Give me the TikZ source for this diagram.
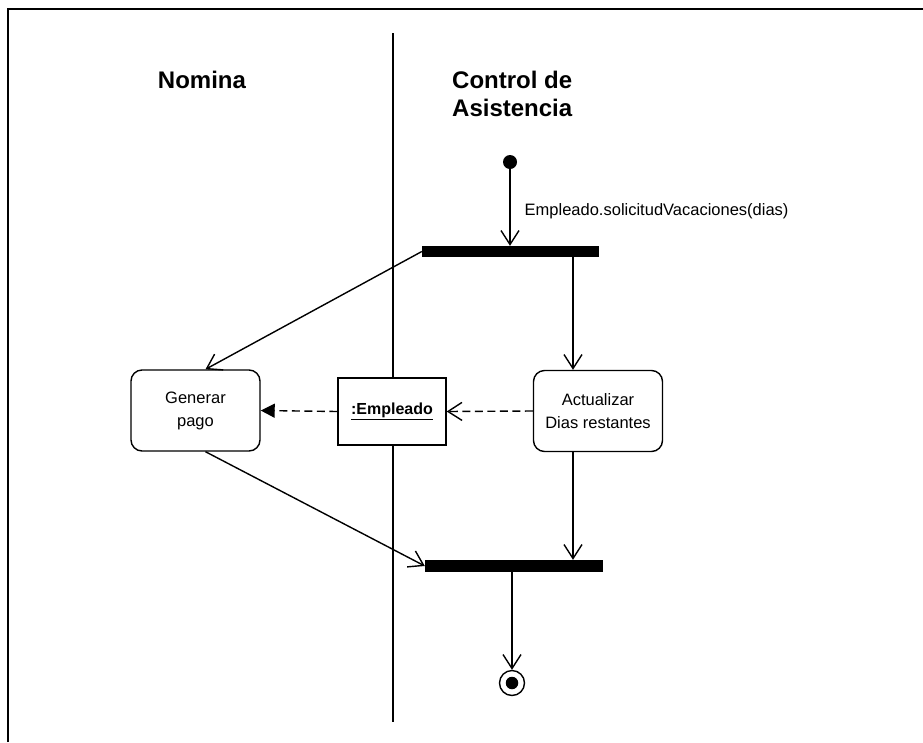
\documentclass[tikz,border=0pt]{standalone}
\usepackage{fontspec}
\setmainfont{Liberation Sans}
\usetikzlibrary{arrows.meta,calc}
\begin{document}
\begin{tikzpicture}[x=1pt,y=-1pt,
  lanehead/.style={font=\fontsize{24}{28}\selectfont\bfseries, inner sep=0pt, align=left},
  activity/.style={draw, line width=1.4pt, rounded corners=11pt, minimum width=129pt, minimum height=81pt,
    align=center, font=\fontsize{16.5}{23}\selectfont, inner sep=0pt},
  objbox/.style={draw, line width=1.4pt, fill=white, minimum width=108pt, minimum height=67pt,
    font=\fontsize{16}{20}\selectfont\bfseries, inner sep=0pt},
  syncbar/.style={fill=black, draw=none, inner sep=0pt},
  openhead/.style={-{Straight Barb[length=14pt,width=18pt,line width=1.4pt]}},
  flow/.style={line width=1.4pt, openhead},
  objflow/.style={line width=1.4pt, dash pattern=on 8pt off 4.5pt},
  note/.style={font=\fontsize{16.5}{20}\selectfont, inner sep=0pt, anchor=west}]
  \useasboundingbox (0,0) rectangle (923,742);

  % frame and swimlane divider
  \draw[line width=1.5pt] (8,742) -- (8,9) -- (923,9);
  \draw[line width=1.6pt] (393,33) -- (393,722);

  % lane headings
  \node[lanehead, anchor=base] (nomina) at (202,88) {Nomina};
  \node[lanehead, anchor=base west] (control) at (452,88) {Control de};
  \node[lanehead, anchor=base west] (control2) at (452,116) {Asistencia};

  % initial and final states
  \node[circle, fill=black, minimum size=14pt, inner sep=0pt] (init) at (510,162) {};
  \node[circle, draw, line width=1.4pt, minimum size=25pt, inner sep=0pt] (final) at (512,683) {};
  \node[circle, fill=black, minimum size=12.5pt, inner sep=0pt] (finaldot) at (final.center) {};

  % synchronisation bars
  \node[syncbar, minimum width=177pt, minimum height=11pt] (fork) at (510.5,251.5) {};
  \node[syncbar, minimum width=178pt, minimum height=12pt] (join) at (514,566) {};

  % actions and object
  \node[activity] (gen) at (195.5,410.5) {Generar\\pago};
  \node[activity] (act) at (598,411) {Actualizar\\Dias restantes};
  \node[objbox] (emp) at (392,411.5) {\underline{:Empleado}};

  % control flow
  \coordinate (a1) at ([xshift=-25pt]act.north);
  \coordinate (a2) at ([xshift=-25pt]act.south);
  \draw[flow] (init) -- (init |- fork.north)
    node[note, pos=0.55, xshift=14pt] (trig) {Empleado.solicitudVacaciones(dias)};
  \draw[flow] (fork.west) -- ([xshift=10pt]gen.north);
  \draw[flow] (a1 |- fork.south) -- (a1);
  \draw[flow] ([xshift=10pt]gen.south) -- (join.west);
  \draw[flow] (a2) -- (a2 |- join.north);
  \draw[flow] (join.south -| final) -- (final.north);

  % object flow
  \draw[objflow, openhead] (act.west) -- (emp.east);
  \draw[objflow, -{Triangle[length=14pt,width=14pt]}] (emp.west) -- (gen.east);
\end{tikzpicture}
\end{document}
